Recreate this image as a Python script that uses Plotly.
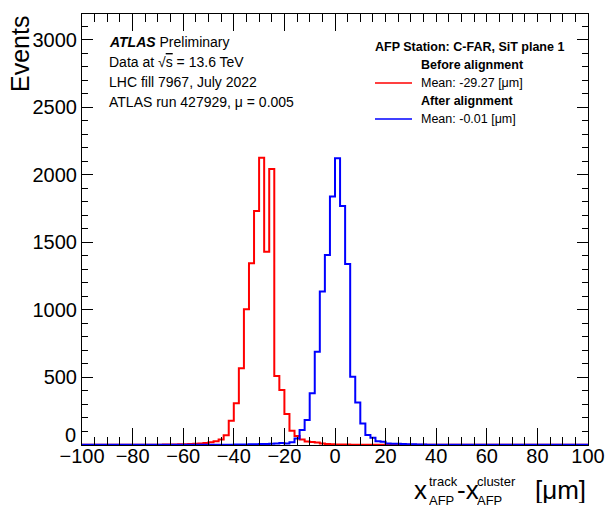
import plotly.graph_objects as go

# ---------------- data ----------------
BIN_LO = -100.0
BIN_WIDTH = 2.0
# counts per 2 um bin, from -100 to +100 (100 bins)
before_counts = (
    [1, 1, 1, 1, 1, 1, 1, 1, 1, 1,            # -100 .. -80
     2, 2, 2, 2, 2, 2, 3, 3, 4, 5,            # -80 .. -60
     6, 8, 10, 12, 15, 20, 28, 40, 72, 180,   # -60 .. -40
     309, 568, 1005, 1346, 1733, 2128, 1432, 2044, 511, 407,   # -40 .. -20
     230, 105, 67, 40, 25, 22, 18, 12, 8, 6,  # -20 .. 0
     4, 3, 3, 2, 2, 2, 2, 1, 1, 1,            # 0 .. 20
     1, 1, 1, 1, 1, 1, 1, 1, 1, 1,            # 20 .. 40
     1, 1, 1, 1, 1, 1, 1, 1, 1, 1,            # 40 .. 60
     1, 1, 1, 1, 1, 1, 1, 1, 1, 1,            # 60 .. 80
     1, 1, 1, 1, 1, 1, 1, 1, 1, 1]            # 80 .. 100
)
after_counts = (
    [1, 1, 1, 1, 1, 1, 1, 1, 1, 1,            # -100 .. -80
     1, 1, 1, 1, 1, 1, 1, 1, 1, 1,            # -80 .. -60
     1, 1, 1, 1, 1, 1, 2, 2, 2, 2,            # -60 .. -40
     3, 3, 4, 5, 6, 7, 8, 10, 12, 14,         # -40 .. -20
     12, 20, 49, 111, 185, 383, 691, 1136, 1407, 1840,   # -20 .. 0
     2123, 1770, 1341, 506, 314, 160, 74, 54, 28, 24,    # 0 .. 20
     12, 10, 9, 7, 6, 5, 4, 3, 2, 2,          # 20 .. 40
     2, 1, 1, 1, 1, 1, 1, 1, 1, 1,            # 40 .. 60
     1, 1, 1, 1, 1, 1, 1, 1, 1, 1,            # 60 .. 80
     1, 1, 1, 1, 1, 1, 1, 1, 1, 1]            # 80 .. 100
)
series_names = ["Mean: -29.27 [\u03bcm]", "Mean: -0.01 [\u03bcm]"]
group_titles = ["Before alignment", "After alignment"]
series_colors = ["#ff0000", "#0000ff"]
legend_title = "AFP Station: C-FAR, SiT plane 1"
x_ticks = [-100, -80, -60, -40, -20, 0, 20, 40, 60, 80, 100]
y_ticks = [0, 500, 1000, 1500, 2000, 2500, 3000]
info_lines = [
    "<b><i>ATLAS</i></b> Preliminary",
    "Data at \u221a<span style='text-decoration:overline'>s</span> = 13.6 TeV",
    "LHC fill 7967, July 2022",
    "ATLAS run 427929, \u03bc = 0.005",
]

# ---------------- figure ----------------
FONT = "Liberation Sans, Arial, Helvetica, sans-serif"
L, T, W, H = 82, 14, 506, 431
FIG_W, FIG_H = 606, 507


def ppx(x):
    return (x - L) / W


def ppy(y):
    return 1 - (y - T) / H


n = len(before_counts)
edges = [BIN_LO + BIN_WIDTH * i for i in range(n + 1)]

fig = go.Figure()
for counts, name, color in [
    (before_counts, series_names[0], series_colors[0]),
    (after_counts, series_names[1], series_colors[1]),
]:
    fig.add_trace(go.Scatter(
        x=edges, y=list(counts) + [counts[-1]],
        mode="lines", line=dict(color=color, width=2, shape="hv"),
        name=name, showlegend=False,
    ))

axis_common = dict(
    showline=True, linecolor="black", linewidth=1, mirror="ticks",
    ticks="inside", tickcolor="black", tickwidth=1,
    showgrid=False, zeroline=False, automargin=False,
    tickfont=dict(family=FONT, size=20, color="black"),
)
fig.update_xaxes(
    range=[-100, 100], tickvals=x_ticks, ticklen=17, ticklabelstandoff=-7,
    minor=dict(ticks="inside", ticklen=8, dtick=5, tick0=0, tickcolor="black",
               showgrid=False),
    **axis_common,
)
# the "0" of the y axis is drawn slightly raised (as in ROOT) to clear the x labels
fig.update_yaxes(
    range=[0, 3192], tickvals=y_ticks,
    ticktext=["" if v == 0 else str(v) for v in y_ticks], ticklen=11,
    minor=dict(ticks="inside", ticklen=6, dtick=100, tick0=0, tickcolor="black",
               showgrid=False),
    **axis_common,
)

annotations = []
shapes = []
annotations.append(dict(
    text=str(y_ticks[0]), x=ppx(77), y=ppy(435), xref="paper", yref="paper",
    xanchor="right", yanchor="middle", showarrow=False, height=18, borderpad=0,
    font=dict(family=FONT, size=20, color="black"),
))
# info block
for i, line in enumerate(info_lines):
    annotations.append(dict(
        text=line, x=ppx(107), y=ppy(41.7 + 20 * i), xref="paper", yref="paper",
        xanchor="left", yanchor="middle", showarrow=False,
        font=dict(family=FONT, size=14, color="black"),
    ))
# y title
annotations.append(dict(
    text="Events", textangle=-90, x=ppx(20), y=ppy(14), xref="paper", yref="paper",
    xanchor="center", yanchor="top", showarrow=False,
    font=dict(family=FONT, size=25, color="black"),
))
# x title pieces
big, small = 26, 13
dy = -2
pieces = [
    ("x", 413, 491, big),
    ("track", 427.5, 483.5, small),
    ("AFP", 427.5, 502, small),
    ("-x", 455.5, 491, big),
    ("cluster", 476, 483.5, small),
    ("AFP", 476, 502, small),
    ("[\u03bcm]", 534, 491, big),
]
for txt, xp, yp, sz in pieces:
    annotations.append(dict(
        text=txt, x=ppx(xp), y=ppy(yp + dy), xref="paper", yref="paper",
        xanchor="left", yanchor="middle", showarrow=False, borderpad=0,
        height=round(sz * 1.05),
        font=dict(family=FONT, size=sz, color="black"),
    ))

# legend box (white, covers mirrored ticks like the original)
shapes.append(dict(type="rect", xref="paper", yref="paper",
                   x0=ppx(365), x1=ppx(576), y0=ppy(130), y1=ppy(22),
                   fillcolor="white", line=dict(width=0), layer="above"))
LEG = 12.5
annotations.append(dict(
    text="<b>" + legend_title + "</b>", x=ppx(372.5), y=ppy(46.7),
    xref="paper", yref="paper", xanchor="left", yanchor="middle", showarrow=False,
    font=dict(family=FONT, size=LEG, color="black"),
))
for k in range(2):
    yh = 65 + 36 * k
    yi = 83.3 + 36 * k
    annotations.append(dict(
        text="<b>" + group_titles[k] + "</b>", x=ppx(419), y=ppy(yh),
        xref="paper", yref="paper", xanchor="left", yanchor="middle", showarrow=False,
        font=dict(family=FONT, size=LEG, color="black"),
    ))
    annotations.append(dict(
        text=series_names[k], x=ppx(419), y=ppy(yi),
        xref="paper", yref="paper", xanchor="left", yanchor="middle", showarrow=False,
        font=dict(family=FONT, size=LEG, color="black"),
    ))
    shapes.append(dict(type="line", xref="paper", yref="paper",
                       x0=ppx(375), x1=ppx(412), y0=ppy(yi - 0.3), y1=ppy(yi - 0.3),
                       line=dict(color=series_colors[k], width=1.5), layer="above"))

fig.update_layout(
    width=FIG_W, height=FIG_H,
    margin=dict(l=L, r=FIG_W - L - W, t=T, b=FIG_H - T - H, pad=0, autoexpand=False),
    paper_bgcolor="white", plot_bgcolor="white",
    showlegend=False,
    annotations=annotations,
    shapes=shapes,
)

fig.write_html("out.html")
